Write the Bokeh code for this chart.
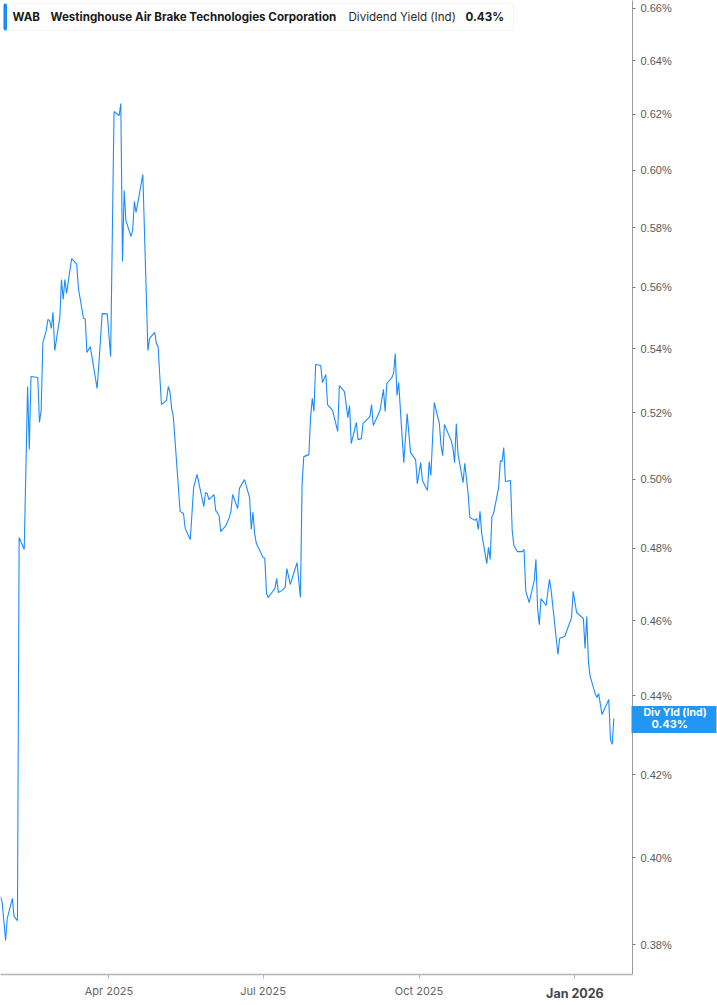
import math
import pandas as pd
from bokeh.plotting import figure
from bokeh.models import (FixedTicker, PrintfTickFormatter, BoxAnnotation, Label,
                          Range1d, ColumnDataSource, LogAxis, LinearAxis)
from bokeh.embed import file_html
from bokeh.resources import INLINE

# ---------------- data ----------------
symbol = "WAB"
company = "Westinghouse Air Brake Technologies Corporation"
metric = "Dividend Yield (Ind)"
metric_short = "Div Yld (Ind)"

dates = [
    "2025-01-27", "2025-01-28", "2025-01-30", "2025-01-31", "2025-02-03", "2025-02-04", "2025-02-06", "2025-02-07", "2025-02-10", "2025-02-12",
    "2025-02-13", "2025-02-14", "2025-02-18", "2025-02-19", "2025-02-20", "2025-02-21", "2025-02-23", "2025-02-24", "2025-02-25", "2025-02-26",
    "2025-02-27", "2025-02-28", "2025-03-03", "2025-03-04", "2025-03-05", "2025-03-06", "2025-03-07", "2025-03-10", "2025-03-13", "2025-03-14",
    "2025-03-17", "2025-03-18", "2025-03-19", "2025-03-21", "2025-03-25", "2025-03-26", "2025-03-28", "2025-03-31", "2025-04-02", "2025-04-04",
    "2025-04-07", "2025-04-08", "2025-04-09", "2025-04-10", "2025-04-11", "2025-04-14", "2025-04-15", "2025-04-16", "2025-04-17", "2025-04-21",
    "2025-04-24", "2025-04-25", "2025-04-28", "2025-04-29", "2025-04-30", "2025-05-02", "2025-05-05", "2025-05-06", "2025-05-07", "2025-05-08",
    "2025-05-09", "2025-05-13", "2025-05-15", "2025-05-16", "2025-05-19", "2025-05-21", "2025-05-23", "2025-05-27", "2025-05-28", "2025-05-29",
    "2025-05-30", "2025-06-02", "2025-06-03", "2025-06-05", "2025-06-06", "2025-06-09", "2025-06-11", "2025-06-12", "2025-06-13", "2025-06-16",
    "2025-06-17", "2025-06-20", "2025-06-23", "2025-06-24", "2025-06-25", "2025-06-26", "2025-06-27", "2025-07-01", "2025-07-02", "2025-07-03",
    "2025-07-04", "2025-07-08", "2025-07-09", "2025-07-10", "2025-07-12", "2025-07-14", "2025-07-15", "2025-07-17", "2025-07-21", "2025-07-23",
    "2025-07-24", "2025-07-25", "2025-07-28", "2025-07-29", "2025-07-30", "2025-07-31", "2025-08-01", "2025-08-04", "2025-08-05", "2025-08-07",
    "2025-08-08", "2025-08-11", "2025-08-14", "2025-08-15", "2025-08-18", "2025-08-20", "2025-08-21", "2025-08-22", "2025-08-25", "2025-08-26",
    "2025-08-28", "2025-08-29", "2025-09-02", "2025-09-03", "2025-09-04", "2025-09-08", "2025-09-10", "2025-09-11", "2025-09-12", "2025-09-15",
    "2025-09-16", "2025-09-17", "2025-09-18", "2025-09-19", "2025-09-22", "2025-09-24", "2025-09-26", "2025-09-29", "2025-09-30", "2025-10-02",
    "2025-10-03", "2025-10-06", "2025-10-07", "2025-10-08", "2025-10-10", "2025-10-13", "2025-10-14", "2025-10-15", "2025-10-16", "2025-10-20",
    "2025-10-21", "2025-10-22", "2025-10-23", "2025-10-24", "2025-10-27", "2025-10-28", "2025-10-30", "2025-10-31", "2025-11-03", "2025-11-04",
    "2025-11-05", "2025-11-06", "2025-11-07", "2025-11-10", "2025-11-11", "2025-11-12", "2025-11-13", "2025-11-14", "2025-11-17", "2025-11-18",
    "2025-11-19", "2025-11-20", "2025-11-21", "2025-11-24", "2025-11-25", "2025-11-26", "2025-11-28", "2025-12-01", "2025-12-02", "2025-12-03",
    "2025-12-05", "2025-12-08", "2025-12-09", "2025-12-10", "2025-12-11", "2025-12-12", "2025-12-15", "2025-12-17", "2025-12-18", "2025-12-22",
    "2025-12-23", "2025-12-26", "2025-12-30", "2025-12-31", "2026-01-02", "2026-01-06", "2026-01-07", "2026-01-08", "2026-01-09", "2026-01-10",
    "2026-01-13", "2026-01-14", "2026-01-15", "2026-01-17", "2026-01-21", "2026-01-22", "2026-01-23", "2026-01-24",
]

yield_pct = [
    0.3909, 0.3895, 0.3809, 0.3859, 0.3905, 0.3863, 0.3854, 0.4831, 0.4797, 0.5281,
    0.5088, 0.5312, 0.5309, 0.5170, 0.5207, 0.5420, 0.5458, 0.5494, 0.5491, 0.5465,
    0.5517, 0.5394, 0.5500, 0.5625, 0.5559, 0.5625, 0.5579, 0.5695, 0.5675, 0.5595,
    0.5497, 0.5496, 0.5388, 0.5407, 0.5275, 0.5347, 0.5513, 0.5512, 0.5375, 0.6211,
    0.6196, 0.6240, 0.5685, 0.5928, 0.5824, 0.5770, 0.5790, 0.5890, 0.5852, 0.5984,
    0.5394, 0.5433, 0.5452, 0.5417, 0.5407, 0.5225, 0.5238, 0.5281, 0.5265, 0.5213,
    0.5188, 0.4906, 0.4900, 0.4857, 0.4825, 0.4976, 0.5014, 0.4920, 0.4961, 0.4958,
    0.4940, 0.4955, 0.4909, 0.4894, 0.4848, 0.4865, 0.4888, 0.4906, 0.4955, 0.4914,
    0.4973, 0.4999, 0.4946, 0.4854, 0.4903, 0.4842, 0.4814, 0.4774, 0.4772, 0.4674,
    0.4663, 0.4688, 0.4716, 0.4677, 0.4682, 0.4691, 0.4743, 0.4699, 0.4760, 0.4663,
    0.4987, 0.5067, 0.5073, 0.5185, 0.5244, 0.5204, 0.5350, 0.5347, 0.5293, 0.5318,
    0.5225, 0.5207, 0.5143, 0.5284, 0.5265, 0.5185, 0.5222, 0.5106, 0.5170, 0.5118,
    0.5121, 0.5167, 0.5188, 0.5225, 0.5161, 0.5207, 0.5272, 0.5204, 0.5290, 0.5309,
    0.5322, 0.5385, 0.5253, 0.5293, 0.5049, 0.5197, 0.5079, 0.5058, 0.4987, 0.5049,
    0.4996, 0.4967, 0.5052, 0.5011, 0.5231, 0.5167, 0.5100, 0.5070, 0.5164, 0.5115,
    0.5094, 0.5049, 0.5167, 0.5076, 0.4990, 0.5047, 0.4958, 0.4888, 0.4880, 0.4885,
    0.4854, 0.4906, 0.4842, 0.4757, 0.4803, 0.4769, 0.4891, 0.4900, 0.4976, 0.5055,
    0.5052, 0.5094, 0.4993, 0.4996, 0.4851, 0.4808, 0.4791, 0.4791, 0.4797, 0.4682,
    0.4649, 0.4710, 0.4769, 0.4633, 0.4589, 0.4660, 0.4641, 0.4713, 0.4682, 0.4509,
    0.4552, 0.4557, 0.4608, 0.4680, 0.4622, 0.4606, 0.4525, 0.4611, 0.4488, 0.4451,
    0.4406, 0.4396, 0.4406, 0.4352, 0.4391, 0.4288, 0.4276, 0.4342,
]

y_ticks = [0.38, 0.40, 0.42, 0.44, 0.46, 0.48, 0.50, 0.52, 0.54, 0.56, 0.58, 0.60, 0.62, 0.64, 0.66]
x_tick_dates = ["2025-04-01", "2025-07-01", "2025-10-01", "2026-01-01"]
x_tick_labels = ["Apr 2025", "Jul 2025", "Oct 2025", "Jan 2026"]
x_start, x_end = "2025-01-27", "2026-02-04"
y_start, y_end = 0.37334, 0.6631

# ---------------- layout / style ----------------
FRAME_W, FRAME_H = 632, 974
RIGHT_W, BOTTOM_H = 85, 31
LINE_BLUE = "#1a8cff"
BOX_BLUE = "#2196f3"
FONT = "Inter"
# measured pixel sizes of side-panel pieces (used to line up stacked axes)
Y_AXIS_W = 43                 # tick + standoff + widest y tick label
W_NAME, W_VALUE = 64, 38      # widths of the two white marker texts
C_NAME, C_VALUE = 675, 671    # their horizontal centres on the page
BOX_H = 27


def ms(s):
    return pd.Timestamp(s).value / 1e6


X0, X1 = ms(x_start), ms(x_end)
LN0, LN1 = math.log(y_start), math.log(y_end)
K = FRAME_H / (LN1 - LN0)          # pixels per unit of ln(value)


def shifted(v, px):                # value px pixels above v on the log scale
    return v * math.exp(px / K)


src = ColumnDataSource(dict(date=pd.to_datetime(dates), y=yield_pct))

p = figure(frame_width=FRAME_W, frame_height=FRAME_H,
           x_axis_type="datetime", y_axis_type="log", y_axis_location="right",
           x_range=Range1d(X0, X1), y_range=Range1d(y_start, y_end),
           toolbar_location=None, output_backend="svg",
           min_border_left=0, min_border_top=0,
           min_border_right=RIGHT_W, min_border_bottom=BOTTOM_H)
p.outline_line_color = None
p.grid.visible = False
p.background_fill_color = "white"
p.border_fill_color = "white"

p.line("date", "y", source=src, line_color=LINE_BLUE, line_width=1.1)

last_val = yield_pct[-1]
last_txt = "%.2f%%" % last_val

# right (log) axis
ya = p.yaxis[0]
ya.ticker = FixedTicker(ticks=y_ticks)
ya.formatter = PrintfTickFormatter(format="%.2f%%")
ya.axis_line_color = "#9a9a9a"
ya.axis_line_width = 1
ya.major_tick_out = 3
ya.major_tick_in = 0
ya.major_tick_line_color = "#777777"
ya.minor_tick_line_color = None
ya.major_label_standoff = 5
ya.major_label_text_font = "Liberation Sans"
ya.major_label_text_font_size = "11px"
ya.major_label_text_color = "#5a5a5a"

# last-value marker: a second right axis whose fat minor tick is the blue box
# and whose one labelled tick is the value; a third axis carries the name line.
start2 = FRAME_W + Y_AXIS_W
tick_out2 = RIGHT_W - Y_AXIS_W
v_val = shifted(last_val, -6)
stand2 = round((C_VALUE - W_VALUE / 2) - (start2 + tick_out2))
ax2 = LogAxis(ticker=FixedTicker(ticks=[v_val], minor_ticks=[shifted(last_val, -1.5)]),
              major_label_overrides={v_val: last_txt},
              axis_line_color=None, major_tick_line_color=None,
              major_tick_out=0, major_tick_in=0,
              minor_tick_in=Y_AXIS_W, minor_tick_out=tick_out2,
              minor_tick_line_color=BOX_BLUE, minor_tick_line_width=BOX_H,
              major_label_standoff=stand2,
              major_label_text_font=FONT, major_label_text_font_size="11px",
              major_label_text_font_style="bold", major_label_text_color="white")
p.add_layout(ax2, "right")

start3 = start2 + tick_out2 + stand2 + W_VALUE
v_name = shifted(last_val, 5.5)
ax3 = LogAxis(ticker=FixedTicker(ticks=[v_name]),
              major_label_overrides={v_name: metric_short},
              axis_line_color=None, major_tick_line_color=None,
              minor_tick_line_color=None, major_tick_out=0, major_tick_in=0,
              major_label_standoff=round((C_NAME - W_NAME / 2) - start3),
              major_label_text_font=FONT, major_label_text_font_size="10.5px",
              major_label_text_font_style="bold", major_label_text_color="white")
p.add_layout(ax3, "right")

# bottom axis
xa = p.xaxis[0]
xa.ticker = FixedTicker(ticks=[ms(d) for d in x_tick_dates])
overrides = {ms(d): lab for d, lab in zip(x_tick_dates, x_tick_labels)}
overrides[ms(x_tick_dates[-1])] = ""
xa.major_label_overrides = overrides
xa.axis_line_color = "#b4b4b4"
xa.axis_line_width = 1.5
xa.major_tick_out = 4
xa.major_tick_in = 0
xa.major_tick_line_color = "#b4b4b4"
xa.minor_tick_line_color = None
xa.major_label_standoff = 5
xa.major_label_text_font = FONT
xa.major_label_text_font_size = "11px"
xa.major_label_text_color = "#666666"

# bold year-start tick label: second bottom axis pulled up next to the others
jan_ms = ms(x_tick_dates[-1])
jan_ax = LinearAxis(ticker=FixedTicker(ticks=[jan_ms]),
                    major_label_overrides={jan_ms: x_tick_labels[-1]},
                    axis_line_color=None, major_tick_line_color=None,
                    minor_tick_line_color=None, major_tick_out=0, major_tick_in=0,
                    major_label_standoff=-15,
                    major_label_text_font=FONT, major_label_text_font_size="12.5px",
                    major_label_text_font_style="bold", major_label_text_color="#454545")
p.add_layout(jan_ax, "below")

# header legend box (inside the frame)
HEAD_TOP = FRAME_H - 3
HEAD_BOT = FRAME_H - 30
p.add_layout(BoxAnnotation(left=3, right=513, top=HEAD_TOP, bottom=HEAD_BOT,
                           left_units="screen", right_units="screen",
                           top_units="screen", bottom_units="screen",
                           fill_color="white", fill_alpha=1.0,
                           line_color="#dcdcdc", line_width=1, border_radius=3,
                           level="overlay"))
p.add_layout(BoxAnnotation(left=3, right=6.5, top=HEAD_TOP, bottom=HEAD_BOT,
                           left_units="screen", right_units="screen",
                           top_units="screen", bottom_units="screen",
                           fill_color=LINE_BLUE, fill_alpha=1.0, line_color=None,
                           border_radius=2, level="overlay"))

head_y = FRAME_H - 16.5
for tx, txt, style, col in [(12, symbol, "bold", "#1a1a1a"),
                            (50, company, "bold", "#1a1a1a"),
                            (348, metric, "normal", "#2b2b2b"),
                            (465, last_txt, "bold", "#1a1a1a")]:
    p.add_layout(Label(x=tx, y=head_y, x_units="screen", y_units="screen", text=txt,
                       text_align="left", text_baseline="middle", text_font=FONT,
                       text_font_size="11.6px", text_font_style=style, text_color=col,
                       level="overlay"))

open("out.html", "w").write(file_html(p, INLINE))
